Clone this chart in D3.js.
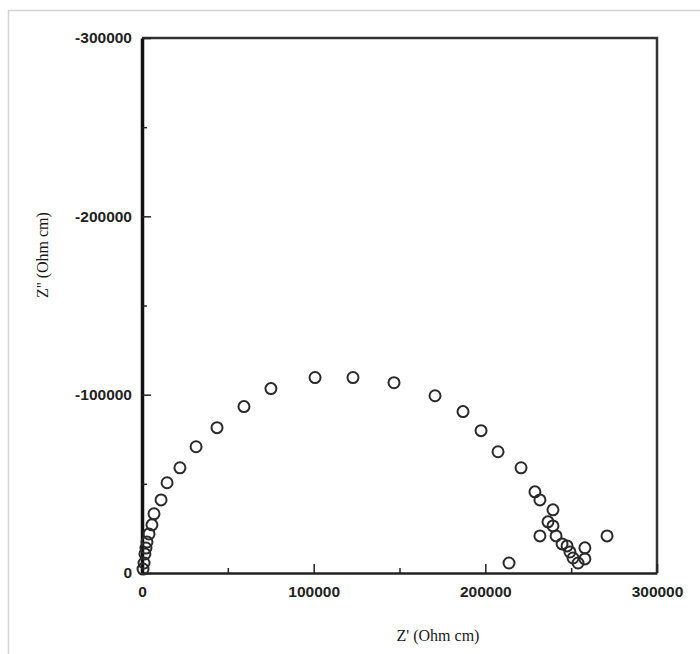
<!DOCTYPE html>
<html>
<head>
<meta charset="utf-8">
<script src="https://cdn.jsdelivr.net/npm/d3@7"></script>
<style>
  html, body { margin: 0; padding: 0; background: #fff; }
  svg { display: block; }
  .tick text { font-family: "Liberation Sans", Arial, sans-serif; font-weight: bold; font-size: 15.5px; fill: #222; }
  .axis-title { font-family: "Liberation Serif", "Times New Roman", serif; font-size: 16px; fill: #1a1a1a; }
</style>
</head>
<body>
<script>
// Nyquist plot: real vs imaginary impedance (Ohm cm)
const zReal = [600, 1200, 1700, 2300, 2900, 4100, 5800, 7000, 11100, 14600,
  22100, 31500, 43700, 59400, 75100, 100800, 122900, 146800, 170700, 187000,
  197500, 207400, 220800, 228900, 231800, 239400, 236500, 239400, 231800, 241200,
  244700, 247600, 249300, 251100, 258000, 258000, 254000, 270900, 213800];
const zImag = [-2200, -5600, -10700, -14000, -17400, -21900, -27000, -33200, -41000, -50600,
  -59000, -70800, -81500, -93300, -103400, -109600, -109600, -106700, -99400, -90500,
  -79800, -68000, -59000, -45500, -41000, -35400, -28700, -26400, -20800, -20800,
  -16300, -15200, -11800, -8400, -14100, -7900, -5600, -20800, -5600];

const xMajor = [0, 100000, 200000, 300000];
const xMinor = [50000, 150000, 250000];
const yMajor = [0, -100000, -200000, -300000];
const yMinor = [-50000, -150000, -250000];

const W = 700, H = 654;
const plot = { left: 142, right: 657, top: 38, bottom: 573 };

const svg = d3.select("body").append("svg").attr("width", W).attr("height", H);

// light page border on the left and top
svg.append("line").attr("x1", 8.5).attr("x2", 8.5).attr("y1", 10).attr("y2", H)
  .attr("stroke", "#d4d4d4").attr("stroke-width", 1.5);
svg.append("line").attr("x1", 8).attr("x2", W).attr("y1", 10.5).attr("y2", 10.5)
  .attr("stroke", "#d4d4d4").attr("stroke-width", 1.5);

const x = d3.scaleLinear().domain([0, 300000]).range([plot.left, plot.right]);
const y = d3.scaleLinear().domain([0, -300000]).range([plot.bottom, plot.top]);

// frame: top and right edges
svg.append("path")
  .attr("d", `M${plot.left},${plot.top}H${plot.right}V${plot.bottom}`)
  .attr("fill", "none").attr("stroke", "#333").attr("stroke-width", 2.5);

// x axis
const gx = svg.append("g").attr("transform", `translate(0,${plot.bottom})`)
  .call(d3.axisBottom(x).tickValues(xMajor).tickSizeInner(-9).tickSizeOuter(0)
    .tickPadding(13).tickFormat(d => String(d)));
gx.select(".domain").attr("stroke", "#222").attr("stroke-width", 2.5);
gx.selectAll(".tick line").attr("stroke", "#222").attr("stroke-width", 1.5);
svg.append("g").attr("transform", `translate(0,${plot.bottom})`)
  .call(d3.axisBottom(x).tickValues(xMinor).tickSizeInner(-5).tickSizeOuter(0).tickFormat(""))
  .call(g => g.select(".domain").remove())
  .selectAll(".tick line").attr("stroke", "#222").attr("stroke-width", 1.5);

// y axis
const gy = svg.append("g").attr("transform", `translate(${plot.left},0)`)
  .call(d3.axisLeft(y).tickValues(yMajor).tickSizeInner(-9).tickSizeOuter(0)
    .tickPadding(10).tickFormat(d => String(d)));
gy.select(".domain").attr("stroke", "#111").attr("stroke-width", 3.5);
gy.selectAll(".tick line").attr("stroke", "#222").attr("stroke-width", 1.5);
svg.append("g").attr("transform", `translate(${plot.left},0)`)
  .call(d3.axisLeft(y).tickValues(yMinor).tickSizeInner(-5).tickSizeOuter(0).tickFormat(""))
  .call(g => g.select(".domain").remove())
  .selectAll(".tick line").attr("stroke", "#222").attr("stroke-width", 1.5);

// axis titles
svg.append("text").attr("class", "axis-title")
  .attr("x", 438).attr("y", 641).attr("text-anchor", "middle")
  .text("Z' (Ohm cm)");
svg.append("text").attr("class", "axis-title")
  .attr("transform", "translate(48,255) rotate(-90)").attr("text-anchor", "middle")
  .text("Z'' (Ohm cm)");

// data markers
svg.append("g").selectAll("circle")
  .data(zReal.map((v, i) => [v, zImag[i]]))
  .join("circle")
  .attr("cx", d => x(d[0]))
  .attr("cy", d => y(d[1]))
  .attr("r", 5.5)
  .attr("fill", "none")
  .attr("stroke", "#2a2a2a")
  .attr("stroke-width", 2);
</script>
</body>
</html>
